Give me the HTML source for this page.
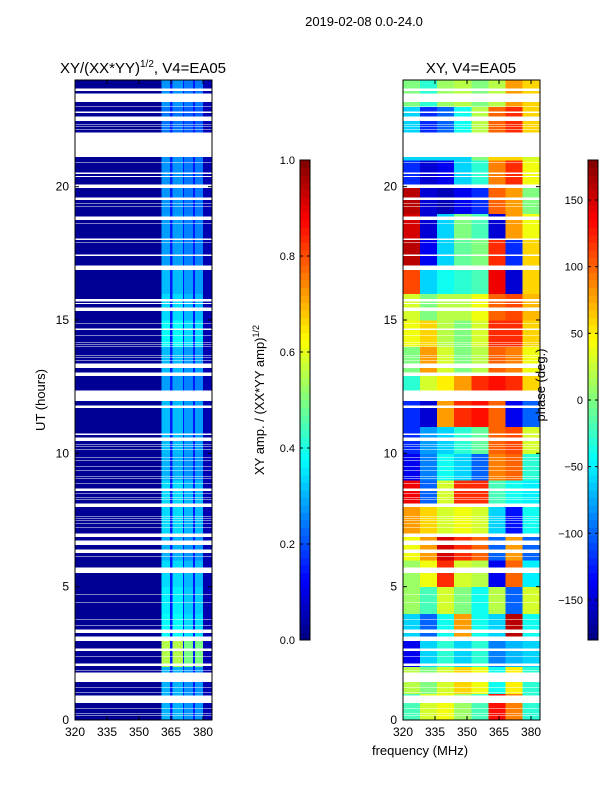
<!DOCTYPE html>
<html><head><meta charset="utf-8"><style>
body{margin:0;background:#fff;}
svg{display:block;font-family:"Liberation Sans",sans-serif;}
</style></head><body>
<svg id="fig" width="600" height="800" viewBox="0 0 600 800" xmlns="http://www.w3.org/2000/svg">
<rect width="600" height="800" fill="#fff"/>
<text x="364" y="26" font-size="13" text-anchor="middle">2019-02-08 0.0-24.0</text>
<text x="143" y="73" font-size="15" text-anchor="middle">XY/(XX*YY)<tspan font-size="10" dy="-6">1/2</tspan><tspan dy="6">, V4=EA05</tspan></text>
<text x="471" y="73" font-size="15" text-anchor="middle">XY, V4=EA05</text>
<g id="ampPanel" shape-rendering="crispEdges"></g>
<g id="phasePanel" shape-rendering="crispEdges"></g>
<g id="axes"></g>
<text transform="translate(45,400) rotate(-90)" font-size="13" text-anchor="middle">UT (hours)</text>
<text transform="translate(264,400) rotate(-90)" font-size="13" text-anchor="middle">XY amp. / (XX*YY amp)<tspan font-size="9" dy="-5">1/2</tspan></text>
<text transform="translate(545,385) rotate(-90)" font-size="13" text-anchor="middle">phase (deg.)</text>
<text x="420" y="755" font-size="13" text-anchor="middle">frequency (MHz)</text>
</svg>
<script>
const gapsUT=[[23.59,23.70],[23.18,23.51],[22.99,23.03],[22.76,22.84],[22.46,22.65],[22.33,22.37],[22.25,22.29],[22.14,22.18],[21.11,22.05],[20.89,20.93],[20.48,20.55],[20.37,20.41],[19.95,20.10],[19.50,19.61],[19.36,19.40],[19.23,19.27],[18.75,18.90],[18.60,18.64],[18.00,18.08],[17.88,17.92],[17.40,17.48],[16.88,17.06],[15.70,15.81],[15.60,15.66],[15.34,15.49],[14.85,14.89],[14.63,14.70],[14.42,14.46],[14.15,14.19],[14.06,14.10],[13.98,14.02],[13.66,13.70],[13.57,13.61],[13.48,13.52],[13.20,13.39],[12.90,13.05],[11.96,12.37],[11.70,11.81],[10.69,10.76],[10.46,10.61],[10.33,10.37],[10.24,10.28],[10.14,10.18],[9.84,9.88],[9.71,9.75],[9.51,9.55],[9.34,9.38],[9.13,9.17],[9.04,9.08],[8.87,8.91],[8.59,8.70],[8.47,8.51],[8.34,8.38],[8.25,8.29],[7.99,8.14],[7.63,7.67],[7.55,7.59],[7.46,7.50],[7.35,7.39],[7.22,7.26],[6.86,7.01],[6.56,6.75],[6.26,6.41],[6.11,6.15],[5.51,5.74],[4.71,4.75],[4.39,4.43],[3.77,3.81],[3.54,3.58],[3.26,3.41],[2.96,3.15],[2.59,2.70],[2.36,2.40],[2.03,2.14],[1.86,1.90],[1.43,1.80],[1.22,1.26],[1.03,1.07],[0.64,0.94],[0.44,0.47],[0.35,0.38],[0.25,0.28],[0.15,0.18]];
const freqEdges=[320,360.6,364.5,365.8,370.5,371.1,375.3,376.3,380,384.2];
const freqBandAmp=[0.02,1,0.15,1,0.15,0.9,0.15,0.9,0.05];
const hourAmp=[0.3,0.3,0.55,0.38,0.36,0.34,0.3,0.34,0.34,0.3,0.31,0.31,0.28,0.31,0.38,0.34,0.31,0.28,0.28,0.27,0.27,0.27,0.24,0.27];
const phaseSegEdges=[320,328,336,344,352,360,368,376,384.2];
const phaseGrid=[
[-20,30,40,10,-20,130,90,-30],
[20,0,30,60,40,-40,50,-30],
[-140,-60,-30,-60,-30,-90,-70,-60],
[-60,-100,-40,80,-40,-60,160,-40],
[10,-20,30,0,-40,20,-100,30],
[10,40,120,30,20,-140,100,-50],
[40,80,150,120,100,-100,80,-100],
[80,60,30,40,30,-60,-130,-40],
[140,-100,30,120,120,-20,-40,-50],
[-140,-90,-40,-60,-100,90,100,-30],
[-120,-80,-60,-30,-10,100,110,30],
[-120,-150,80,120,130,100,-140,-100],
[-30,30,50,80,120,130,120,60],
[0,80,30,0,20,100,90,40],
[40,60,20,0,30,120,120,60],
[30,0,20,20,40,100,110,70],
[110,-60,-40,-30,-20,140,-150,60],
[160,-140,-60,-10,0,120,-120,60],
[150,-150,-60,0,-20,-150,80,40],
[160,-150,-160,-140,-120,100,80,0],
[-120,-150,-140,-60,-30,90,120,40],
[-60,-60,-60,-60,0,60,60,30],
[-60,-120,-100,-40,20,100,120,60],
[0,-30,10,20,0,20,80,60]];
const yTicks=[0,5,10,15,20];
const xTicks=[320,335,350,365,380];
const ampCbTicks=[0.0,0.2,0.4,0.6,0.8,1.0];
const phaseCbTicks=[-150,-100,-50,0,50,100,150];

const NS="http://www.w3.org/2000/svg";
const yTop=80,yBot=720;
const yOf=h=>yBot-(h/24)*(yBot-yTop);
const xL=f=>75+(f-320)*(137/64.2);
const xR=f=>403+(f-320)*(137/64.2);
function jet(v){v=Math.max(0,Math.min(1,v));
 const r=Math.max(0,Math.min(1,1.5-Math.abs(4*v-3))),g=Math.max(0,Math.min(1,1.5-Math.abs(4*v-2))),b=Math.max(0,Math.min(1,1.5-Math.abs(4*v-1)));
 return `rgb(${Math.round(r*255)},${Math.round(g*255)},${Math.round(b*255)})`;}
function mk(tag,attrs,parent){const e=document.createElementNS(NS,tag);for(const k in attrs)e.setAttribute(k,attrs[k]);parent.appendChild(e);return e;}
const gs=gapsUT.slice().sort((a,b)=>a[0]-b[0]);
const rows=[];let cur=0;
for(const g of gs){if(g[0]>cur)rows.push([cur,g[0]]);cur=Math.max(cur,g[1]);}
if(cur<24)rows.push([cur,24]);
const cells=[];
for(const r of rows){let a=r[0];while(a<r[1]-1e-6){const b=Math.min(r[1],Math.floor(a+1e-6)+1);cells.push([a,b]);a=b;}}
const amp=document.getElementById('ampPanel');
const ph=document.getElementById('phasePanel');
for(const c of cells){
 const hr=Math.min(23,Math.floor(c[0]+1e-6));
 const y1=yOf(c[1]),y0=yOf(c[0]);
 for(let i=0;i<freqBandAmp.length;i++){
  const v=freqBandAmp[i]>=0.9?hourAmp[hr]*freqBandAmp[i]:freqBandAmp[i];
  const el=mk('rect',{x:xL(freqEdges[i]),y:y1,width:xL(freqEdges[i+1])-xL(freqEdges[i])+0.5,height:y0-y1+0.5,fill:jet(v)},amp);
  
  
 }
 for(let j=0;j<phaseGrid[hr].length;j++){
  const v=(phaseGrid[hr][j]+180)/360;
  const el=mk('rect',{x:xR(phaseSegEdges[j]),y:y1,width:xR(phaseSegEdges[j+1])-xR(phaseSegEdges[j])+0.5,height:y0-y1+0.5,fill:jet(v)},ph);
  
  
 }
}
const ax=document.getElementById('axes');
for(const X of [75,403]){
 const f=mk('rect',{x:X,y:yTop,width:137,height:yBot-yTop,fill:'none',stroke:'#000','stroke-width':1},ax);
 
 
 for(const t of yTicks){const y=yOf(t);
  mk('line',{x1:X,x2:X+4,y1:y,y2:y,stroke:'#000'},ax);mk('line',{x1:X+133,x2:X+137,y1:y,y2:y,stroke:'#000'},ax);
  const tl=mk('text',{x:X-6,y:y+4,'font-size':12,'text-anchor':'end'},ax);tl.textContent=t;
  
  }
 const xf=X===75?xL:xR;
 for(const t of xTicks){const x=xf(t);
  mk('line',{x1:x,x2:x,y1:yBot,y2:yBot-4,stroke:'#000'},ax);mk('line',{x1:x,x2:x,y1:yTop,y2:yTop+4,stroke:'#000'},ax);
  const tl=mk('text',{x:x,y:yBot+16,'font-size':12,'text-anchor':'middle'},ax);tl.textContent=t;
  
  }
}
function colorbar(X,lo,hi,ticks,fmt,name){
 const g=mk('g',{},ax);
 
 
 const n=64;for(let i=0;i<n;i++){const y=640-(i+1)*480/n;mk('rect',{x:X,y:y,width:10,height:480/n+0.5,fill:jet((i+0.5)/n)},g);}
 mk('rect',{x:X,y:160,width:10,height:480,fill:'none',stroke:'#000'},g);
 for(const t of ticks){const y=640-(t-lo)/(hi-lo)*480;
  mk('line',{x1:X,x2:X+3,y1:y,y2:y,stroke:'#000'},g);mk('line',{x1:X+7,x2:X+10,y1:y,y2:y,stroke:'#000'},g);
  const tl=mk('text',{x:X-5,y:y+4,'font-size':11,'text-anchor':'end'},g);tl.textContent=fmt(t);
  
  }
}
colorbar(300,0,1,ampCbTicks,t=>t.toFixed(1),'amp-colorbar');
colorbar(588,-180,180,phaseCbTicks,t=>t<0?'\u2212'+(-t):String(t),'phase-colorbar');
</script>
</body></html>
